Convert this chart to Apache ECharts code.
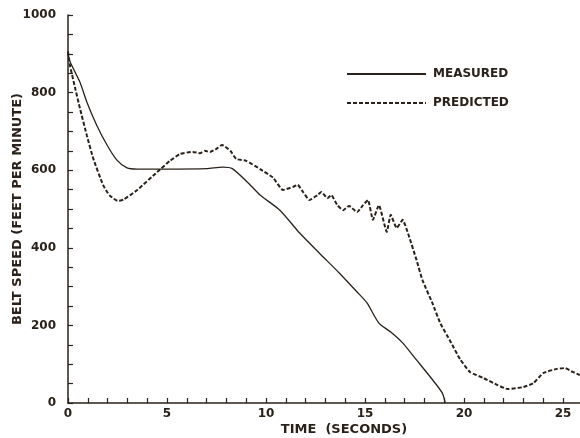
<!DOCTYPE html>
<html>
<head>
<meta charset="utf-8">
<script src="https://cdn.jsdelivr.net/npm/echarts@6/dist/echarts.min.js"></script>
<style>
  html, body { margin: 0; padding: 0; background: #fff; }
  #chart { width: 580px; height: 438px; }
</style>
</head>
<body>
<div id="chart"></div>
<script>
// values
const measuredTime  = [0, 0.1, 0.6, 0.95, 1.45, 1.97, 2.47, 2.98, 3.5, 5.15, 7, 7.8, 8.3, 9.2, 9.7, 10.7, 11.7, 12.7, 13.7, 14.6, 15.1, 15.7, 16.3, 16.9, 17.6, 18.3, 18.9, 19.05]
const measuredSpeed = [902, 880, 827, 776, 716, 665, 626, 606, 603, 603, 604, 608, 604, 562, 536, 497, 438, 386, 335, 286, 258, 206, 183, 155, 111, 67, 26, 0]

const predictedTime  = [0, 0.1, 0.35, 0.6, 0.95, 1.27, 1.77, 2.1, 2.5, 2.8, 3.5, 4.5, 5.15, 5.66, 6.3, 6.67, 6.9, 7.17, 7.5, 7.78, 8.2, 8.5, 9.0, 9.7, 10.35, 10.86, 11.36, 11.6, 11.87, 12.2, 12.6, 12.8, 13.1, 13.3, 13.6, 13.9, 14.2, 14.6, 14.9, 15.15, 15.4, 15.7, 16.1, 16.3, 16.6, 16.9, 17.2, 17.6, 17.9, 18.4, 18.8, 19.3, 19.8, 20.3, 21.0, 21.7, 22.2, 23.0, 23.5, 24.0, 24.7, 25.1, 25.5, 25.85]
const predictedSpeed = [906, 870, 814, 760, 690, 631, 562, 535, 521, 524, 549, 595, 624, 642, 647, 644, 650, 647, 655, 665, 650, 629, 624, 603, 581, 549, 557, 562, 544, 523, 536, 544, 528, 536, 510, 497, 508, 492, 510, 523, 472, 510, 441, 485, 451, 472, 433, 369, 317, 258, 206, 160, 113, 80, 64, 46, 36, 41, 51, 77, 88, 90, 80, 72]

const xTicks = [0, 5, 10, 15, 20, 25]
const yTicks = [0, 200, 400, 600, 800, 1000]

const ink = '#2a221a'
const font = 'DejaVu Sans'

const chart = echarts.init(document.getElementById('chart'))
chart.setOption({
  backgroundColor: '#fff',
  animation: false,
  grid: { left: 68, right: -82, top: 15, bottom: 35, containLabel: false, outerBoundsMode: 'none' },
  legend: {
    orient: 'vertical',
    left: 341, top: 63,
    itemWidth: 79, itemHeight: 12, itemGap: 17,
    itemStyle: { opacity: 0 },
    textStyle: { fontFamily: font, fontWeight: 'bold', fontSize: 12, color: ink, padding: [0, 0, 0, 2] },
    data: ['MEASURED', 'PREDICTED']
  },
  xAxis: {
    type: 'value', min: 0, max: 30, interval: 5,
    axisLine: { lineStyle: { color: ink, width: 1.5 } },
    axisTick: { inside: true, length: 5, lineStyle: { color: ink, width: 1.2 } },
    minorTick: { show: true, splitNumber: 5, length: 5, lineStyle: { color: ink, width: 1.2 } },
    splitLine: { show: false },
    axisLabel: {
      margin: 5, fontFamily: font, fontWeight: 'bold', fontSize: 12, color: ink,
      formatter: v => xTicks.includes(v) ? String(v) : ''
    }
  },
  yAxis: {
    type: 'value', min: 0, max: 1000, interval: 200,
    name: 'BELT SPEED (FEET PER MINUTE)',
    nameLocation: 'middle', nameGap: 44, nameRotate: 90, nameMoveOverlap: false,
    nameTextStyle: { fontFamily: font, fontWeight: 'bold', fontSize: 13, color: ink },
    axisLine: { show: true, lineStyle: { color: ink, width: 1.5 } },
    axisTick: { show: true, inside: true, length: 5, lineStyle: { color: ink, width: 1.2 } },
    minorTick: { show: true, splitNumber: 4, length: 5, lineStyle: { color: ink, width: 1.2 } },
    splitLine: { show: false },
    axisLabel: {
      margin: 12, fontFamily: font, fontWeight: 'bold', fontSize: 12, color: ink,
      formatter: v => yTicks.includes(v) ? String(v) : ''
    }
  },
  graphic: [{
    type: 'text', x: 344, y: 423,
    style: { text: 'TIME  (SECONDS)', font: 'bold 13px "DejaVu Sans"', fill: ink, align: 'center' }
  }],
  series: [
    {
      name: 'MEASURED', type: 'line', symbol: 'none', smooth: 0.25,
      lineStyle: { color: ink, width: 1.3 },
      itemStyle: { color: ink },
      data: measuredTime.map((t, i) => [t, measuredSpeed[i]])
    },
    {
      name: 'PREDICTED', type: 'line', symbol: 'none', smooth: 0.15,
      lineStyle: { color: ink, width: 2, type: [4, 2] },
      itemStyle: { color: ink },
      data: predictedTime.map((t, i) => [t, predictedSpeed[i]])
    }
  ]
})
</script>
</body>
</html>
